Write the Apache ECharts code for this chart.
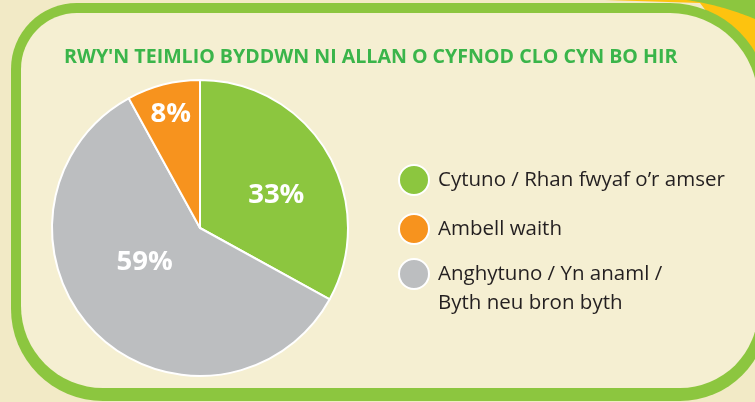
<!DOCTYPE html>
<html><head><meta charset="utf-8">
<script src="https://cdn.jsdelivr.net/npm/echarts@6/dist/echarts.min.js"></script>
<style>html,body{margin:0;padding:0;background:#f2eac6}#c{width:755px;height:402px}</style>
</head><body><div id="c"></div>
<script>
const titleText = "RWY'N TEIMLIO BYDDWN NI ALLAN O CYFNOD CLO CYN BO HIR";
const categories = ['Cytuno / Rhan fwyaf o\u2019r amser', 'Anghytuno / Yn anaml /\nByth neu bron byth', 'Ambell waith'];
const values = [33, 59, 8];
const legendOrder = ['Cytuno / Rhan fwyaf o\u2019r amser', 'Ambell waith', 'Anghytuno / Yn anaml /\nByth neu bron byth'];
const colors = ['#8cc63f', '#bcbec0', '#f7931e'];

function quadPoly(start, ctrl, end, extra) {
  const pts = [];
  for (let i = 0; i <= 30; i++) {
    const t = i / 30, u = 1 - t;
    pts.push([u*u*start[0] + 2*u*t*ctrl[0] + t*t*end[0], u*u*start[1] + 2*u*t*ctrl[1] + t*t*end[1]]);
  }
  return pts.concat(extra);
}
const labelOffsets = [[10, 6], [-1, -20], [-10, -39]];
const legendText = { fontFamily: 'Open Sans', fontSize: 20.5, color: '#231f20', lineHeight: 29, padding: [0, 0, 0, 4] };
const chart = echarts.init(document.getElementById('c'));
chart.setOption({
  animation: false,
  backgroundColor: '#f2eac6',
  graphic: [
    { type: 'polygon', silent: true, z: 0, z2: 0, shape: { points: [[605, 0], [755, 0], [755, 75], [700, 3]] }, style: { fill: '#fdc30f' } },
    { type: 'polygon', silent: true, z: 0, z2: 1, shape: { points: quadPoly([755, 19], [718, 4], [686, 0], [[755, 0]]) }, style: { fill: '#8cc63f' } },
    { type: 'rect', silent: true, z: 0, z2: 2, shape: { x: 11, y: 3, width: 757, height: 398, r: [66, 98, 88, 92] }, style: { fill: '#8cc63f' } },
    { type: 'rect', silent: true, z: 0, z2: 3, shape: { x: 21, y: 13, width: 737, height: 375, r: [56, 88, 78, 82] }, style: { fill: '#f5efd2' } }
  ],
  title: {
    text: titleText, left: 64, top: 47, padding: 0, z: 10,
    textStyle: { fontFamily: 'Open Sans', fontWeight: 'bold', fontSize: 19.6, color: '#3ab54a' }
  },
  legend: [{
    orient: 'vertical', left: 398, top: 164, padding: 0, z: 10,
    itemWidth: 30, itemHeight: 30, itemGap: 17, icon: 'circle',
    itemStyle: { borderColor: '#ffffff', borderWidth: 2 },
    textStyle: legendText,
    data: legendOrder.slice(0, 2)
  }, {
    orient: 'vertical', left: 398, top: 230.5, padding: 0, z: 10,
    itemWidth: 30, itemHeight: 30, icon: 'circle',
    itemStyle: { borderColor: '#ffffff', borderWidth: 2 },
    textStyle: legendText,
    formatter: (n) => '\n' + n,
    data: legendOrder.slice(2)
  }],
  series: [{
    type: 'pie', center: [200, 228], radius: 148, startAngle: 90, clockwise: true, z: 10,
    itemStyle: { borderColor: '#ffffff', borderWidth: 2 },
    label: { position: 'inside', formatter: '{c}%', color: '#ffffff', fontFamily: 'Open Sans', fontWeight: 'bold', fontSize: 27.5 },
    labelLine: { show: false },
    labelLayout: (p) => ({ dx: labelOffsets[p.dataIndex][0], dy: labelOffsets[p.dataIndex][1] }),
    emphasis: { disabled: true },
    data: categories.map((n, i) => ({ name: n, value: values[i], itemStyle: { color: colors[i] } }))
  }]
});
</script></body></html>
